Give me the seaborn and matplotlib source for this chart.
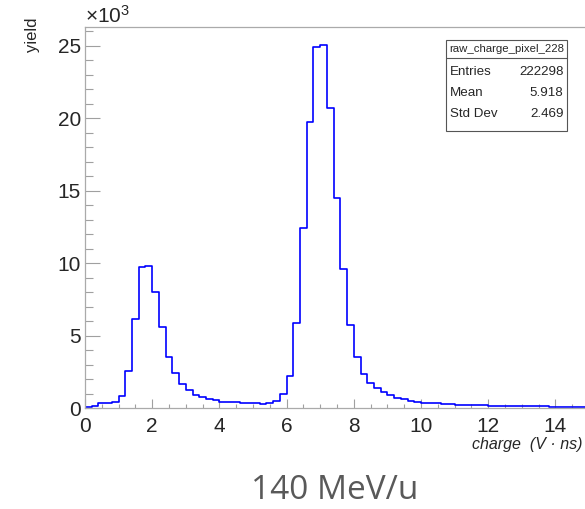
import numpy as np
import pandas as pd
import matplotlib
matplotlib.use("Agg")
import matplotlib.pyplot as plt
import seaborn as sns
from matplotlib.patches import Rectangle
from matplotlib.lines import Line2D
from matplotlib.ticker import MultipleLocator

# ---------------- data ----------------
x_range = (0.0, 15.0)
n_bins = 75
counts = [100, 150, 350, 350, 410, 850, 2570, 6140, 9770, 9840,
          8000, 5590, 3560, 2460, 1660, 1260, 920, 760, 620, 570,
          460, 460, 410, 340, 340, 340, 280, 340, 500, 960,
          2230, 5860, 12410, 19720, 24900, 25050, 20730, 14500, 9580, 5720,
          3560, 2340, 1770, 1380, 1100, 900, 740, 620, 530, 440,
          390, 370, 340, 320, 300, 250, 230, 230, 200, 200,
          180, 180, 180, 160, 160, 160, 130, 130, 130, 100,
          100, 90, 90, 80, 80]
x_ticks = [0, 2, 4, 6, 8, 10, 12, 14]
y_ticks_k = [0, 5, 10, 15, 20, 25]
hist_name = "raw_charge_pixel_228"
stat_names = ["Entries", "Mean", "Std Dev"]
stat_values = ["222298", "5.918", "2.469"]
x_title = "charge  (V \u00b7 ns)"
y_title = "yield"
caption = "140 MeV/u"

# ---------------- style ----------------
sns.set_style("ticks")
plt.rcParams["font.family"] = ["Liberation Sans", "DejaVu Sans"]
plt.rcParams["mathtext.fontset"] = "custom"
plt.rcParams["mathtext.rm"] = "Liberation Sans"
plt.rcParams["mathtext.it"] = "Liberation Sans:italic"

W, H = 585, 509
fig = plt.figure(figsize=(W / 100, H / 100), dpi=100)
fig.patch.set_facecolor("white")

def fx(px):
    return px / W

def fy(py):
    return 1 - py / H

ax_left, ax_right, ax_top, ax_bottom = 85, 589, 26.7, 408.3
ax = fig.add_axes([fx(ax_left), fy(ax_bottom), fx(ax_right - ax_left), (ax_bottom - ax_top) / H])

edges = np.linspace(x_range[0], x_range[1], n_bins + 1)
centers = 0.5 * (edges[:-1] + edges[1:])
df = pd.DataFrame({"charge": centers, "yield_k": np.array(counts) / 1000.0})

sns.histplot(data=df, x="charge", weights="yield_k", bins=n_bins, binrange=x_range,
             element="step", fill=False, color="#0000ff", linewidth=1.2, ax=ax)

ax.set_xlim(*x_range)
ax.set_ylim(0, 1.05 * df["yield_k"].max())
ax.set_xlabel("")
ax.set_ylabel("")

ax.set_xticks(x_ticks)
ax.set_yticks(y_ticks_k)
ax.xaxis.set_minor_locator(MultipleLocator(0.5))
ax.yaxis.set_minor_locator(MultipleLocator(1))

tick_col = "#a0a0a0"
ax.tick_params(axis="y", which="major", direction="in", length=10.8, width=0.8,
               color=tick_col, labelsize=15, pad=3, left=True, right=False)
ax.tick_params(axis="y", which="minor", direction="in", length=5.4, width=0.8,
               color=tick_col, left=True, right=False)
ax.tick_params(axis="x", which="major", direction="in", length=6.5, width=0.8,
               color=tick_col, labelsize=15, pad=6, bottom=True, top=False)
ax.tick_params(axis="x", which="minor", direction="in", length=3.2, width=0.8,
               color=tick_col, bottom=True, top=False)
for s in ax.spines.values():
    s.set_color("#aaaaaa")
    s.set_linewidth(0.9)
    s.set_visible(True)

# exponent label
ax.text(0.0, 1.0, r"$\times10^{3}$", transform=ax.transAxes, ha="left", va="bottom",
        fontsize=15)

# axis titles
fig.text(fx(32), fy(18), y_title, rotation=90, ha="center", va="top", fontsize=12)
fig.text(fx(583), fy(445), x_title, ha="right", va="center", fontsize=11.5, style="italic")

# stats box
bx0, bx1, by0, by1, hdr = 446, 567, 40, 131, 58.3
fig.add_artist(Rectangle((fx(bx0), fy(by1)), fx(bx1 - bx0), (by1 - by0) / H,
                         transform=fig.transFigure, facecolor="white",
                         edgecolor="#555555", linewidth=0.8, zorder=5))
fig.add_artist(Line2D([fx(bx0), fx(bx1)], [fy(hdr), fy(hdr)], transform=fig.transFigure,
                      color="#555555", linewidth=0.8, zorder=6))
fig.text(fx((bx0 + bx1) / 2), fy((by0 + hdr) / 2), hist_name, ha="center", va="center",
         fontsize=8.2, zorder=7)
row_y = [71.7, 93.0, 114.0]
for name, val, yy in zip(stat_names, stat_values, row_y):
    fig.text(fx(450), fy(yy), name, ha="left", va="center", fontsize=9.6, zorder=7)
    fig.text(fx(563.5), fy(yy), val, ha="right", va="center", fontsize=9.6, zorder=7)

# caption
fig.text(fx(335), fy(499), caption, ha="center", va="baseline", fontsize=24,
         color="#595959", family=["Open Sans", "DejaVu Sans"])

fig.savefig("out.png", dpi=100)
